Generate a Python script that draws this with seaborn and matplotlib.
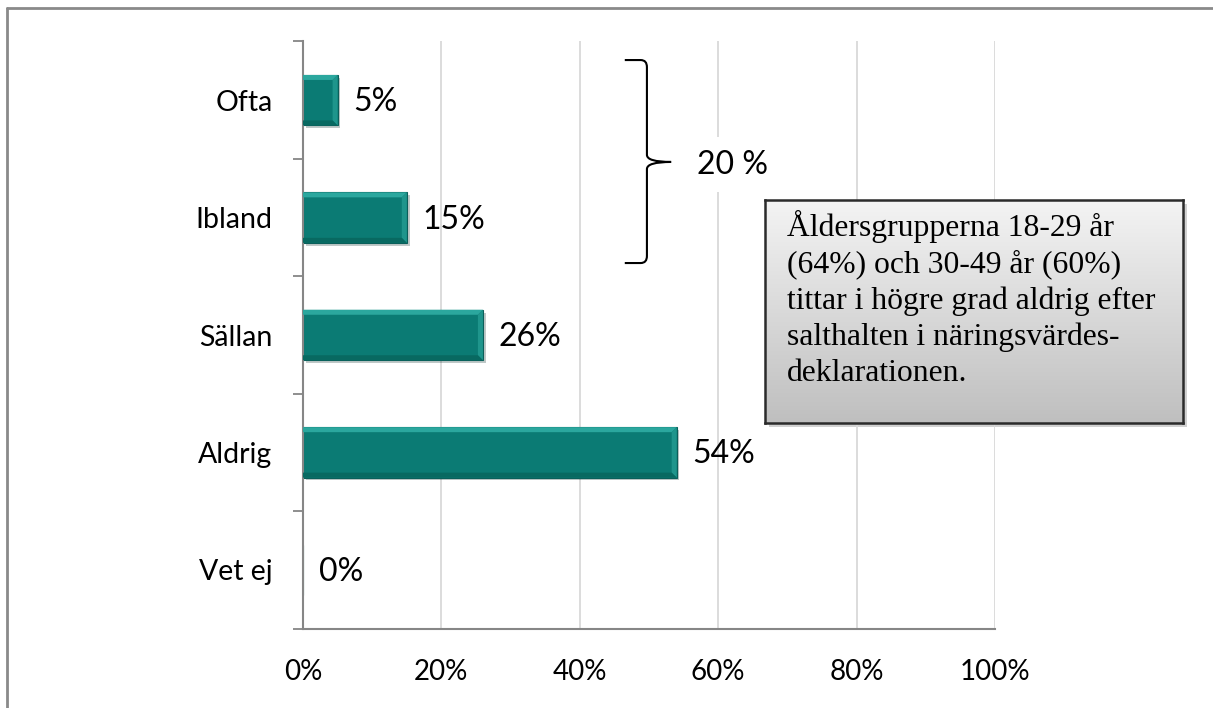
import numpy as np
import pandas as pd
import seaborn as sns
import matplotlib
matplotlib.use("Agg")
import matplotlib.pyplot as plt
from matplotlib.patches import Polygon, Rectangle, PathPatch
from matplotlib.path import Path
from matplotlib.lines import Line2D
from matplotlib.colors import LinearSegmentedColormap
import matplotlib.patheffects as pe

# ---- data ----
categories = ["Ofta", "Ibland", "Sällan", "Aldrig", "Vet ej"]
values = [5, 15, 26, 54, 0]
value_labels = ["5%", "15%", "26%", "54%", "0%"]
x_ticks = [0, 20, 40, 60, 80, 100]
x_tick_labels = ["0%", "20%", "40%", "60%", "80%", "100%"]
bracket_label = "20 %"
note_text = ("Åldersgrupperna 18-29 år\n(64%) och 30-49 år (60%)\n"
             "tittar i högre grad aldrig efter\nsalthalten i näringsvärdes-\n"
             "deklarationen.")

sns.set_theme(style="white")
plt.rcParams['font.family'] = ['Lato', 'DejaVu Sans']

W, H = 1213, 708
fig = plt.figure(figsize=(W / 100, H / 100), dpi=100)
fig.patch.set_facecolor("white")

ax = fig.add_axes([303 / W, 1 - 628.5 / H, 692 / W, 587 / H])
ax.set_facecolor("none")
df = pd.DataFrame({"cat": categories, "val": values})
bar_color = "#0b7b74"
sns.barplot(data=df, y="cat", x="val", orient="h", color=bar_color,
            saturation=1, width=0.43, ax=ax, edgecolor="#0a5f5a", linewidth=0.8)

ax.set_xlim(0, 100)
ax.set_ylim(len(categories) - 0.5, -0.5)
ax.set_xlabel("")
ax.set_ylabel("")

# grid
ax.set_xticks(x_ticks)
ax.set_xticklabels(x_tick_labels, fontsize=20)
ax.grid(axis="x", color="#d9d9d9", lw=1.3)
ax.set_axisbelow(True)

axis_col = "#868686"
for s in ["top", "right"]:
    ax.spines[s].set_visible(False)
for s in ["left", "bottom"]:
    ax.spines[s].set_color(axis_col)
    ax.spines[s].set_linewidth(1.5)

ax.tick_params(axis="x", which="major", length=7.2, width=1.3, color=axis_col,
               direction="out", pad=15, labelcolor="black")
ax.set_yticks(range(len(categories)))
ax.set_yticklabels(categories, fontsize=20.5)
ax.tick_params(axis="y", which="major", length=0, pad=22, labelcolor="black")
ax.set_yticks(np.arange(-0.5, len(categories), 1.0), minor=True)
ax.tick_params(axis="y", which="minor", length=7.2, width=1.3, color=axis_col,
               direction="out", left=True)

# bevel effect derived from the bars
fig.canvas.draw()
px_x = 100 / ax.get_window_extent().width
px_y = len(categories) / ax.get_window_extent().height
d = 5
for p in list(ax.patches):
    w = p.get_width()
    if w <= 0:
        continue
    p.set_path_effects([pe.SimplePatchShadow(offset=(2, -2), alpha=0.25), pe.Normal()])
    x0 = p.get_x(); x1 = x0 + w
    yt = p.get_y(); yb = yt + p.get_height()
    dx = d * px_x; dy = d * px_y
    ax.add_patch(Polygon([(x0, yt), (x1, yt), (x1 - dx, yt + dy), (x0, yt + dy)],
                         closed=True, fc="#2ba79e", ec="none", zorder=3))
    ax.add_patch(Polygon([(x1, yt), (x1, yb), (x1 - dx, yb - dy), (x1 - dx, yt + dy)],
                         closed=True, fc="#1f958c", ec="none", zorder=3))
    ax.add_patch(Polygon([(x0, yb), (x1, yb), (x1 - dx, yb - dy), (x0, yb - dy)],
                         closed=True, fc="#086961", ec="none", zorder=3))

# data labels
for i, (v, lab) in enumerate(zip(values, value_labels)):
    ax.annotate(lab, xy=(v, i), xytext=(16, -2), textcoords="offset pixels",
                ha="left", va="center", fontsize=23, color="black")

# bracket
xL, xV, xT = 46.5, 49.7, 53.2
yT, yB, yM = -0.342, 1.387, 0.526
r = 0.06
for ye, sgn in [(yT, 1), (yB, -1)]:
    verts = [(xL, ye), (xV - 0.9, ye), (xV, ye), (xV, ye + sgn * r),
             (xV, yM - sgn * r), (xV, yM), (xT, yM)]
    codes = [Path.MOVETO, Path.LINETO, Path.CURVE3, Path.CURVE3,
             Path.LINETO, Path.CURVE3, Path.CURVE3]
    ax.add_patch(PathPatch(Path(verts, codes), fc="none", ec="black", lw=1.5,
                           zorder=4, clip_on=False))
ax.text(56.9, 0.55, bracket_label, ha="left", va="center", fontsize=23,
        color="black", zorder=4,
        bbox=dict(fc="white", ec="none", pad=9))

# note box with gradient
bx0, bx1, by0, by1 = 765, 1183, 200, 423
shadow = Rectangle(((bx0 + 4) / W, 1 - (by1 + 4) / H), (bx1 - bx0) / W, (by1 - by0) / H,
                   transform=fig.transFigure, fc="#000000", alpha=0.18, ec="none",
                   zorder=-1)
fig.patches.append(shadow)
ax2 = fig.add_axes([bx0 / W, 1 - by1 / H, (bx1 - bx0) / W, (by1 - by0) / H])
ax2.set_zorder(5)
cmap = LinearSegmentedColormap.from_list("g", ["#f4f4f4", "#bfbfbf"])
grad = np.linspace(0, 1, 256).reshape(-1, 1)
ax2.imshow(grad, aspect="auto", cmap=cmap, extent=[0, 1, 0, 1], origin="upper",
           vmin=0, vmax=1)
ax2.set_xlim(0, 1); ax2.set_ylim(0, 1)
ax2.set_xticks([]); ax2.set_yticks([])
for s in ax2.spines.values():
    s.set_color("#2b2b2b")
    s.set_linewidth(1.8)
ax2.text(0.053, 0.955, note_text, ha="left", va="top", fontsize=22.8,
         family=["Liberation Serif", "DejaVu Serif"], linespacing=1.3, color="black")

# outer frame (top & left)
fig.lines.append(Line2D([7 / W, 7 / W], [0, 1 - 7.5 / H], transform=fig.transFigure,
                        color="#8a8a8a", lw=2))
fig.lines.append(Line2D([7 / W, 1], [1 - 7.5 / H, 1 - 7.5 / H], transform=fig.transFigure,
                        color="#8a8a8a", lw=2))

fig.savefig("out.png", dpi=100)
